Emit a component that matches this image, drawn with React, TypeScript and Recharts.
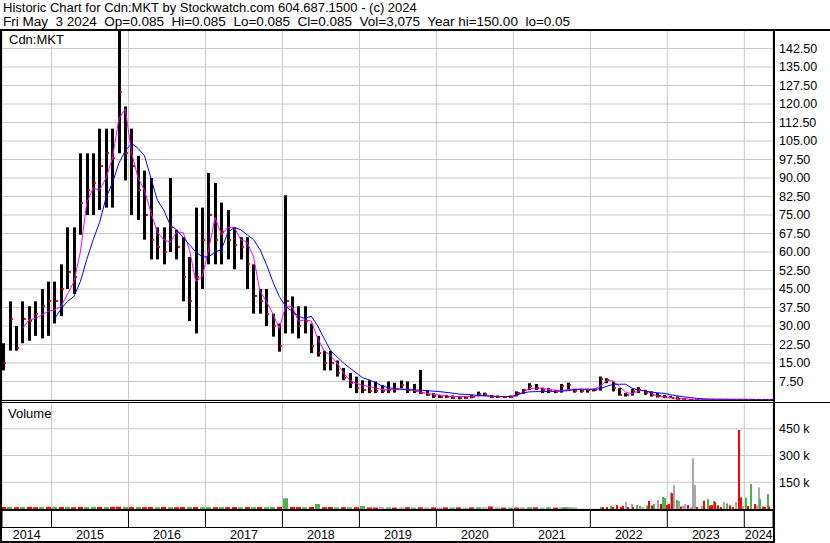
import React from "react";
import {
  Bar,
  CartesianGrid,
  ComposedChart,
  Line,
  Scatter,
  XAxis,
  YAxis,
} from "recharts";

const FONT = '"Liberation Sans", Arial, sans-serif';

// monthly bars, May 2014 .. May 2024
const START_YEAR = 2014;
const START_MONTH = 5;

const high = [
  23, 40, 30, 40, 38, 40, 45, 48,
  48, 55, 70, 70, 100, 100, 100, 110, 110, 110, 150, 119,
  110, 99, 93, 90, 70, 70, 90, 69, 66, 58, 78, 78,
  92, 88, 80, 77, 70, 66, 66, 55, 45, 45, 35, 31,
  83, 42, 38, 38, 31, 26, 20, 20, 16, 13, 11, 9.5,
  8, 8, 7.5, 6, 7.5, 7, 7.9, 7.5, 6.5, 12.2, 4, 2.8,
  2, 2, 1.8, 1.6, 1.5, 2, 3.4, 3, 2, 1.8, 1.6, 1.8,
  3.5, 4.5, 6.8, 6.5, 5, 4.8, 4, 6.5, 7, 4.5, 4.5, 4.5,
  4.5, 9.5, 8.8, 7.5, 4.8, 2.8, 4.5, 5.2, 4.1, 3.5, 2.8, 2.1,
  1.7, 1.4, 0.8, 0.4, 0.35, 0.3, 0.3, 0.3, 0.25, 0.25, 0.2, 0.2,
  0.15, 0.15, 0.12, 0.1, 0.085,
];

const low = [
  12, 20, 20, 23, 24, 26, 25, 26,
  31, 34, 45, 43, 67, 75, 75, 77, 78, 78, 100, 89,
  75, 73, 65, 57, 57, 55, 60, 57, 40, 32, 27, 45,
  55, 55, 55, 57, 53, 57, 45, 35, 35, 30, 25.7, 19.6,
  27, 27, 25, 27, 19, 17.6, 12, 12, 9.5, 8, 4.8, 2.8,
  2.8, 2.8, 2.8, 2.8, 2.8, 3, 4.8, 2.8, 2.8, 2.5, 1.7, 0.8,
  0.8, 0.8, 0.5, 0.3, 0.5, 0.7, 1.5, 1.6, 0.8, 0.8, 0.8, 0.9,
  1.5, 2.5, 4, 4, 2.8, 2.8, 2.8, 3, 4, 3, 3, 3,
  3.5, 3.8, 6.8, 3.5, 1.8, 1.4, 1.8, 2.8, 2.1, 1.4, 1, 0.75,
  0.7, 0.2, 0.2, 0.1, 0.1, 0.1, 0.1, 0.08, 0.08, 0.06, 0.06, 0.05,
  0.05, 0.05, 0.05, 0.06, 0.085,
];

const close = [
  15, 33, 21, 33, 32, 35, 38, 40,
  40, 45, 52, 50, 80, 85, 88, 95, 100, 98, 125, 100,
  95, 85, 75, 65, 62, 60, 70, 62, 50, 40, 50, 65,
  75, 65, 68, 65, 63, 62, 55, 42, 40, 35, 30, 22,
  40, 35, 30, 32, 22, 19, 15, 15, 11, 9, 7, 5,
  4, 3.5, 3.5, 3.5, 4, 4.5, 6, 4, 3.5, 3, 2.2, 1.5,
  1.4, 1.2, 1.0, 0.9, 1.0, 1.4, 2.6, 2.4, 1.3, 1.2, 1.2, 1.4,
  3, 4, 5.5, 5, 4, 3.5, 3.2, 5.5, 6, 3.8, 3.8, 4,
  4, 8.5, 8, 5, 2, 2, 3.5, 4, 2.8, 2, 1.5, 1.2,
  1, 0.6, 0.4, 0.2, 0.15, 0.15, 0.12, 0.12, 0.1, 0.1, 0.1, 0.1,
  0.1, 0.09, 0.09, 0.085, 0.085,
];

// short moving average (magenta)
const avgFast = [
  null, null, null, 29, 32.5, 33, 34.5, 36,
  36.5, 38, 43, 48, 60, 80, 86, 85, 90, 98, 114, 118,
  100, 90, 85, 76, 68, 65, 64, 68, 68, 61, 48, 50,
  61, 74, 67, 70, 70, 65, 64, 58, 44, 40, 35, 29,
  38, 38, 32, 32.5, 32, 25, 20, 18, 15, 11, 8, 6.8,
  6, 5.5, 4.8, 4.3, 4.1, 4.2, 4.4, 4.2, 3.9, 3.2, 2.7, 2.3,
  2.0, 1.7, 1.4, 1.4, 1.4, 1.5, 1.7, 1.7, 1.5, 1.4, 1.4, 1.4,
  1.6, 3.2, 4.6, 4.8, 4.8, 4.3, 4.0, 3.8, 4.2, 4.4, 4.3, 4.1,
  4.3, 5.5, 7.8, 7.8, 5.5, 3.2, 2.5, 3.7, 4.0, 2.6, 1.6, 1.2,
  1.0, 0.75, 0.55, 0.35, 0.3, 0.25, 0.2, 0.18, 0.15, 0.12, 0.1, 0.1,
  0.1, 0.1, 0.09, 0.09, 0.09,
];

// long moving average (blue)
const avgSlow = [
  null, null, null, null, null, null, null, null,
  33, 37, 40, 42, 48, 57, 65, 72, 82, 88, 96, 101,
  104, 102, 99, 90, 81, 77, 71, 69, 66, 63, 60, 58,
  58, 60, 61, 68, 70, 69, 67, 65, 61, 55, 48, 42,
  38, 36, 34, 33, 34, 30, 25, 20, 17.6, 15, 13, 11,
  9, 8.2, 7, 5.8, 5.0, 4.6, 4.4, 4.3, 4.1, 4.0, 3.8, 3.6,
  3.4, 3.1, 2.8, 2.4, 2.3, 2.1, 1.9, 1.7, 1.6, 1.5, 1.4, 1.4,
  2.0, 2.9, 3.3, 3.4, 3.4, 3.4, 3.5, 3.6, 3.8, 4.2, 4.4, 4.4,
  4.4, 4.5, 5.5, 6.3, 6.4, 6.4, 4.8, 4.0, 3.7, 3.2, 2.9, 2.7,
  2.1, 1.7, 1.3, 1.0, 0.7, 0.5, 0.4, 0.35, 0.35, 0.33, 0.3, 0.3,
  0.28, 0.25, 0.2, 0.18, 0.15,
];

const priceTicks = [
  7.5, 15, 22.5, 30, 37.5, 45, 52.5, 60, 67.5, 75, 82.5, 90, 97.5, 105,
  112.5, 120, 127.5, 135, 142.5,
];
const yearLines = [2015, 2016, 2017, 2018, 2019, 2020, 2021, 2022, 2023, 2024];
const yearLabels = [2014, 2015, 2016, 2017, 2018, 2019, 2020, 2021, 2022, 2023, 2024];
const volumeTicks = [150000, 300000, 450000];

// monthly volume (thousands), May 2014 .. Dec 2021
const monthlyVolume = [
  11, 12, 10, 11, 12, 10, 11, 12,
  12, 11, 12, 10, 12, 11, 12, 12, 11, 12, 13, 12,
  11, 12, 10, 11, 10, 12, 11, 10, 11, 12, 11, 10,
  11, 10, 11, 10, 11, 10, 11, 10, 11, 10, 11, 12,
  60, 12, 11, 10, 11, 28, 10, 11, 9, 10, 9, 10,
  17, 9, 8, 10, 9, 8, 9, 10, 8, 9, 8, 9,
  8, 9, 8, 9, 8, 9, 10, 9, 14, 9, 8, 8,
  8, 9, 10, 9, 8, 9, 8, 9, 10, 9, 0, 0,
];
const monthlyVolumeColor =
  "rgrgrrgr" +
  "grgrrggrgrrg" +
  "rgrrgrgrrgrg" +
  "grgrrgrgrggr" +
  "grrgrgrrgrgr" +
  "grrkgrkrgrkr" +
  "krgrkrgkrkrg" +
  "rkgrkgrkgkrr";

// individual sessions (decimal year, thousands)
const tradeYears = [
  2018.03, 2021.628, 2021.65, 2021.675, 2021.7, 2021.725, 2021.75,
  2022.134, 2022.168, 2022.212, 2022.264, 2022.298, 2022.35, 2022.398,
  2022.428, 2022.459, 2022.493, 2022.537, 2022.558, 2022.602, 2022.645,
  2022.688, 2022.74, 2022.766, 2022.801, 2022.823, 2022.875, 2022.914,
  2022.94, 2022.965, 2022.991, 2023.017, 2023.043, 2023.064, 2023.086,
  2023.121, 2023.147, 2023.173, 2023.199, 2023.229, 2023.264, 2023.303,
  2023.337, 2023.36, 2023.389, 2023.446, 2023.48, 2023.524, 2023.554,
  2023.576, 2023.602, 2023.619, 2023.654, 2023.693, 2023.736, 2023.779,
  2023.814, 2023.849, 2023.892, 2023.927, 2023.953, 2023.987, 2024.018,
  2024.052, 2024.083, 2024.139, 2024.169, 2024.187, 2024.204, 2024.239,
  2024.273, 2024.304, 2024.325,
];
const tradeVolume = [
  56, 8, 10, 8, 9, 8, 8,
  11, 11, 11, 17, 11, 22, 11,
  17, 39, 11, 28, 11, 22, 17,
  11, 20, 45, 20, 28, 50, 28,
  67, 63, 22, 28, 95, 88, 135,
  50, 45, 14, 17, 28, 22, 11,
  284, 135, 11, 17, 47, 56, 20,
  22, 45, 39, 20, 11, 39, 31,
  20, 11, 39, 443, 65, 17, 63,
  17, 140, 28, 20, 121, 56, 14,
  11, 84, 14,
];
const tradeColor =
  "rkgrgkg" +
  "grrgrrr" +
  "rkrkrgg" +
  "kgrrgkr" +
  "ggrrkrk" +
  "gkrkkrk" +
  "kkrkrgr" +
  "rgrrrkg" +
  "rrkrrkg" +
  "rgrkkgr" +
  "rgr";

const T0 = 2014.357;
const T1 = 2024.373;

function monthTime(i: number) {
  const m = START_MONTH - 1 + i;
  return START_YEAR + Math.floor(m / 12) + ((m % 12) + 0.5) / 12;
}

const priceData = high.map((h, i) => ({
  t: monthTime(i),
  range: [low[i], h],
  close: close[i],
  fast: avgFast[i],
  slow: avgSlow[i],
}));

const volumeData = [
  ...monthlyVolume.map((v, i) => ({
    t: monthTime(i),
    vol: v * 1000,
    c: monthlyVolumeColor[i],
    wide: true,
  })),
  ...tradeYears.map((t, i) => ({
    t,
    vol: tradeVolume[i] * 1000,
    c: tradeColor[i],
    wide: false,
  })),
].sort((a, b) => a.t - b.t);

const labelTicks = yearLabels.map(
  (y) => (Math.max(y, T0) + Math.min(y + 1, T1)) / 2
);
const stripData = yearLines.map((t) => ({ t }));

const VOL_COLORS: Record<string, string> = {
  r: "#ff0000",
  g: "#4cb24c",
  k: "#a8a8a8",
};

function PriceBar(props: any) {
  const { x, y, width, height } = props;
  if (x == null || y == null) return null;
  const cx = x + width / 2;
  const top = height < 0 ? y + height : y;
  const h = Math.max(Math.abs(height), 1);
  return <rect x={Math.round(cx - 1.5)} y={top} width={3} height={h} fill="#000" />;
}

function CloseMark(props: any) {
  const { cx, cy } = props;
  if (cx == null || cy == null) return null;
  return (
    <rect x={Math.round(cx) + 1} y={Math.round(cy) - 1} width={2} height={2} fill="#ff0000" />
  );
}

function VolumeBar(props: any) {
  const { x, y, width, height, payload } = props;
  if (!height || x == null) return null;
  const w = payload.wide ? 5 : 2;
  const cx = x + width / 2;
  return (
    <rect
      x={Math.round(cx - w / 2)}
      y={y}
      width={w}
      height={height}
      fill={VOL_COLORS[payload.c]}
    />
  );
}

function EmptyTick() {
  return <g />;
}

function YearTick(props: any) {
  const { x, y, payload } = props;
  return (
    <text x={x} y={y + 12} textAnchor="middle" fontSize={12.5} fontFamily={FONT} fill="#000">
      {Math.floor(payload.value)}
    </text>
  );
}

const axisTick = { fontSize: 12.5, fill: "#000", fontFamily: FONT };

function Rule({ left, top, width, height }: any) {
  return (
    <div style={{ position: "absolute", left, top, width, height, background: "#000" }} />
  );
}

function YearAxis({ id }: { id?: string }) {
  return null;
}

export default function App() {
  return (
    <div
      style={{
        position: "absolute",
        left: 0,
        top: 0,
        width: 830,
        height: 543,
        background: "#fff",
        overflow: "hidden",
        fontFamily: FONT,
        color: "#000",
      }}
    >
      <div style={{ position: "absolute", left: 3, top: 1, fontSize: 13, lineHeight: "14px", whiteSpace: "pre" }}>
        {"Historic Chart for Cdn:MKT by Stockwatch.com 604.687.1500 - (c) 2024"}
      </div>
      <div style={{ position: "absolute", left: 3, top: 15, fontSize: 13.5, lineHeight: "14px", whiteSpace: "pre" }}>
        {"Fri May  3 2024  Op=0.085  Hi=0.085  Lo=0.085  Cl=0.085  Vol=3,075  Year hi=150.00  lo=0.05"}
      </div>

      <div style={{ position: "absolute", left: 0, top: 30, width: 830, height: 370 }}>
        <ComposedChart width={830} height={370} data={priceData} margin={{ top: 0, right: 0, bottom: 0, left: 2 }}>
          <CartesianGrid stroke="#c8c8c8" />
          <XAxis
            type="number"
            dataKey="t"
            domain={[T0, T1]}
            ticks={yearLines}
            interval={0}
            allowDataOverflow
            height={0}
            tick={EmptyTick}
            axisLine={false}
            tickLine={false}
          />
          <YAxis
            orientation="right"
            type="number"
            domain={[0, 150]}
            ticks={priceTicks}
            interval={0}
            width={57}
            axisLine={false}
            tickLine={false}
            tickSize={0}
            tickMargin={6}
            tick={axisTick}
            tickFormatter={(v: number) => v.toFixed(2)}
          />
          <Bar dataKey="range" barSize={3} shape={PriceBar} isAnimationActive={false} />
          <Scatter dataKey="close" shape={CloseMark} isAnimationActive={false} />
          <Line type="linear" dataKey="fast" stroke="#ff00ff" strokeWidth={1} dot={false} isAnimationActive={false} />
          <Line type="linear" dataKey="slow" stroke="#0000ff" strokeWidth={1} dot={false} isAnimationActive={false} />
        </ComposedChart>
      </div>

      <div style={{ position: "absolute", left: 0, top: 402, width: 830, height: 107 }}>
        <ComposedChart width={830} height={107} data={volumeData} margin={{ top: 0, right: 0, bottom: 0, left: 2 }}>
          <CartesianGrid stroke="#c8c8c8" />
          <XAxis
            type="number"
            dataKey="t"
            domain={[T0, T1]}
            ticks={yearLines}
            interval={0}
            allowDataOverflow
            height={0}
            tick={EmptyTick}
            axisLine={false}
            tickLine={false}
          />
          <YAxis
            orientation="right"
            type="number"
            domain={[0, 600000]}
            ticks={volumeTicks}
            interval={0}
            width={57}
            axisLine={false}
            tickLine={false}
            tickSize={0}
            tickMargin={6}
            tick={axisTick}
            tickFormatter={(v: number) => `${v / 1000} k`}
          />
          <Bar dataKey="vol" barSize={2} shape={VolumeBar} isAnimationActive={false} />
        </ComposedChart>
      </div>

      <div style={{ position: "absolute", left: 0, top: 511, width: 830, height: 30 }}>
        <ComposedChart width={830} height={30} data={stripData} margin={{ top: 0, right: 57, bottom: 0, left: 2 }}>
          <CartesianGrid stroke="#000" horizontal={false} xAxisId="b" />
          <XAxis
            xAxisId="b"
            type="number"
            dataKey="t"
            domain={[T0, T1]}
            ticks={yearLines}
            interval={0}
            allowDataOverflow
            height={0}
            tick={EmptyTick}
            axisLine={false}
            tickLine={false}
          />
          <XAxis
            xAxisId="lab"
            type="number"
            dataKey="t"
            domain={[T0, T1]}
            ticks={labelTicks}
            interval={0}
            allowDataOverflow
            height={14}
            tick={YearTick}
            axisLine={false}
            tickLine={false}
            tickSize={0}
            tickMargin={0}
          />
        </ComposedChart>
      </div>

      <div
        style={{
          position: "absolute",
          left: 5,
          top: 32,
          padding: "0 4px",
          background: "#fff",
          fontSize: 13,
          lineHeight: "15px",
        }}
      >
        Cdn:MKT
      </div>
      <div style={{ position: "absolute", left: 8, top: 406, fontSize: 13, lineHeight: "15px" }}>
        Volume
      </div>

      <Rule left={0} top={29} width={830} height={2} />
      <Rule left={0} top={29} width={2} height={514} />
      <Rule left={773} top={29} width={2} height={514} />
      <Rule left={0} top={400} width={775} height={1} />
      <Rule left={0} top={402} width={830} height={1} />
      <Rule left={0} top={509} width={775} height={2} />
      <Rule left={0} top={527} width={775} height={1} />
      <Rule left={0} top={541} width={775} height={2} />
    </div>
  );
}
